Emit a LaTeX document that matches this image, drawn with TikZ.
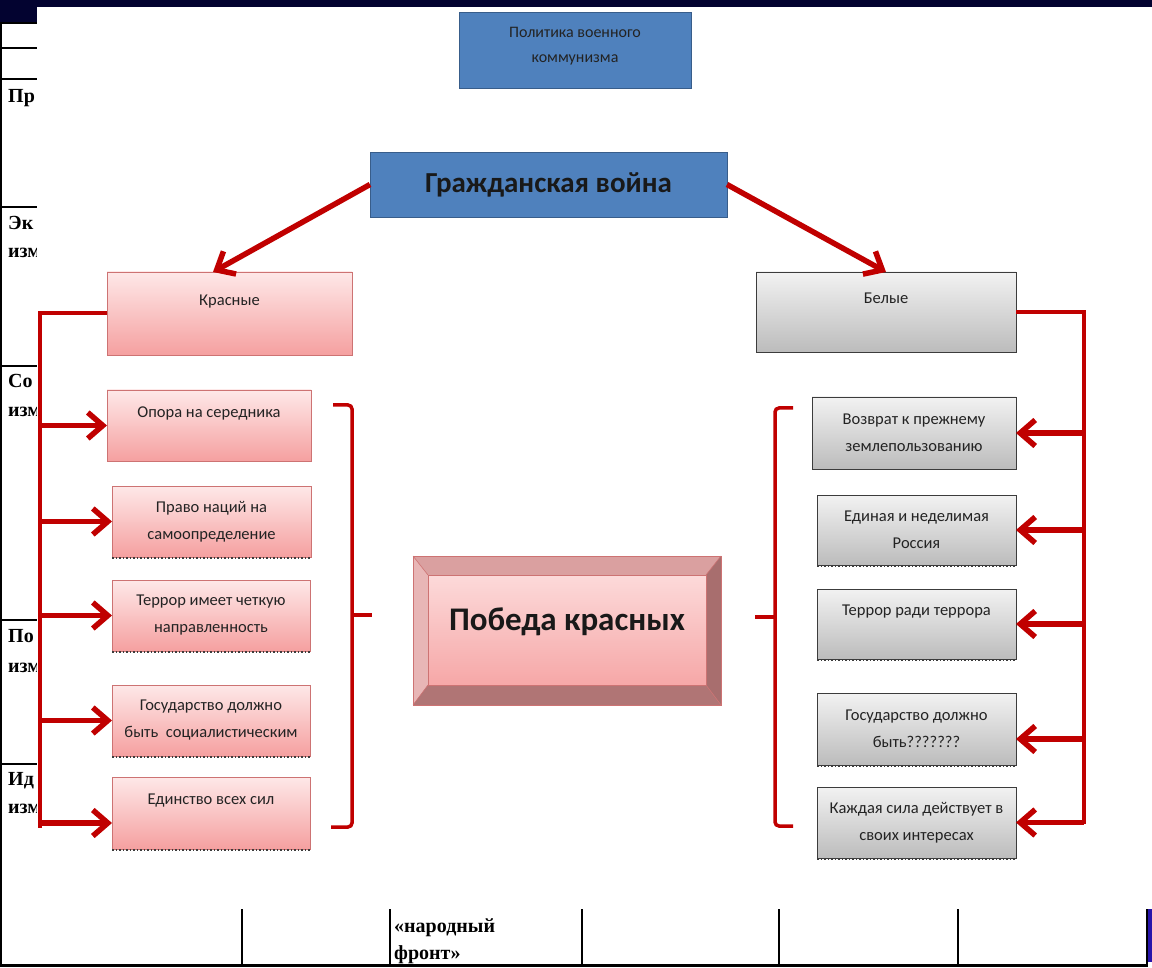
\documentclass[tikz,border=0pt]{standalone}
\usepackage{fontspec}
\setmainfont{Carlito}
\newfontfamily\tabfont{Liberation Serif}
\usetikzlibrary{arrows.meta}
\definecolor{navy}{RGB}{3,3,48}
\definecolor{bluefill}{RGB}{79,129,189}
\definecolor{blueline}{RGB}{56,93,138}
\definecolor{arrred}{RGB}{192,0,0}
\definecolor{pinktop}{RGB}{254,232,232}
\definecolor{pinkbot}{RGB}{245,160,160}
\definecolor{pinkline}{RGB}{205,115,115}
\definecolor{graytop}{RGB}{242,242,242}
\definecolor{graybot}{RGB}{188,188,188}
\definecolor{grayline}{RGB}{60,60,60}
\definecolor{txt}{RGB}{35,35,35}
\definecolor{bevtop}{RGB}{218,160,160}
\definecolor{bevleft}{RGB}{232,182,182}
\definecolor{bevright}{RGB}{168,110,110}
\definecolor{bevbot}{RGB}{176,117,117}
\definecolor{strip}{RGB}{40,20,170}
\tikzset{
  basebox/.style={inner sep=0pt, outer sep=0pt, anchor=north west, align=center, text=txt, line width=0.8pt,
    font=\fontsize{16.5}{27}\selectfont},
  bluebox/.style={basebox, draw=blueline, fill=bluefill},
  pinkbox/.style={basebox, draw=pinkline, top color=pinktop, bottom color=pinkbot},
  graybox/.style={basebox, draw=grayline, top color=graytop, bottom color=graybot},
  tabline/.style={line width=2pt, black},
  tabtext/.style={font=\tabfont\bfseries\fontsize{20}{20}\selectfont, anchor=base west, inner sep=0pt},
  trunk/.style={line width=4pt, arrred},
  arr/.style={line width=5.5pt, arrred, -{Straight Barb[length=15pt,width=26pt]}},
  brace/.style={line width=3.5pt, arrred, rounded corners=4pt},
  dotline/.style={line width=1.5pt, dotted, grayline},
}
\begin{document}
\begin{tikzpicture}[x=1pt,y=-1pt]
\useasboundingbox (0,0) rectangle (1152,968);
% ---- table in the background ----
\fill[white] (0,0) rectangle (1152,968);
\fill[navy] (0,0) rectangle (1152,7);
\fill[navy] (0,0) rectangle (37,22);
\foreach \yy in {23,48,79,207,366,620,764} \draw[tabline] (0,\yy) -- (37,\yy);
\draw[tabline] (1,22) -- (1,966);
\draw[line width=3pt] (0,965.5) -- (1148,965.5);
\foreach \xx in {242,390,582,779,958,1147} \draw[tabline] (\xx,909) -- (\xx,965);
\fill[strip] (1148,908) rectangle (1152,962);
\node[tabtext] (t1) at (8,103) {Пр};
\node[tabtext] (t2) at (8,230) {Эк};
\node[tabtext] (t3) at (8,258) {изм};
\node[tabtext] (t4) at (8,388) {Со};
\node[tabtext] (t5) at (8,417) {изм};
\node[tabtext] (t6) at (8,642) {По};
\node[tabtext] (t7) at (8,672) {изм};
\node[tabtext] (t8) at (8,785) {Ид};
\node[tabtext] (t9) at (8,813) {изм};
\node[tabtext] (t10) at (394,932) {«народный};
\node[tabtext] (t11) at (394,959) {фронт»};
% ---- white sheet over the table ----
\fill[white] (37,7) rectangle (1152,909);
% ---- boxes ----
\node[bluebox, minimum width=232pt, minimum height=76pt, font=\fontsize{16}{25}\selectfont] (pol) at (459,12) {Политика военного\\коммунизма\\[-14pt]\mbox{}};
\node[bluebox, minimum width=357pt, minimum height=65pt, font=\bfseries\fontsize{29}{30}\selectfont, text=black!90] (gw) at (370,152) {Гражданская война};
\node[pinkbox, minimum width=245pt, minimum height=83pt] (red) at (107,272) {Красные\\\mbox{}};
\node[graybox, minimum width=260pt, minimum height=80pt] (wht) at (756,272) {Белые\\\mbox{}};
\node[pinkbox, minimum width=204pt, minimum height=71pt] (r1) at (107,390) {Опора на середника\\\mbox{}};
\node[pinkbox, minimum width=199pt, minimum height=71pt] (r2) at (112,486) {Право наций на\\самоопределение};
\node[pinkbox, minimum width=198pt, minimum height=71pt] (r3) at (112,580) {Террор имеет четкую\\направленность};
\node[pinkbox, minimum width=198pt, minimum height=71pt] (r4) at (112,685) {Государство должно\\быть\ \ социалистическим};
\node[pinkbox, minimum width=198pt, minimum height=72pt] (r5) at (112,777) {Единство всех сил\\\mbox{}};
\node[graybox, minimum width=204pt, minimum height=72pt] (w1) at (812,397) {Возврат к прежнему\\землепользованию};
\node[graybox, minimum width=199pt, minimum height=70pt] (w2) at (817,495) {Единая и неделимая\\Россия};
\node[graybox, minimum width=199pt, minimum height=70pt] (w3) at (817,589) {Террор ради террора\\\mbox{}};
\node[graybox, minimum width=199pt, minimum height=72pt] (w4) at (817,693) {Государство должно\\быть???????};
\node[graybox, minimum width=199pt, minimum height=71pt] (w5) at (817,787) {Каждая сила действует в\\своих интересах};
\foreach \b in {r2,r3,r4,r5,w2,w3,w4,w5} \draw[dotline] ([yshift=-1pt]\b.south west) -- ([yshift=-1pt]\b.south east);
% ---- bevelled result box ----
\node[basebox, draw=pinkline, fill=bevtop, minimum width=308pt, minimum height=149pt] (win) at (413,556) {};
\node[basebox, minimum width=278pt, minimum height=110pt, top color=pinktop!80!pinkbot, bottom color=pinkbot!90!pinktop] (face) at (428,575) {};
\fill[bevleft] (win.north west) -- (face.north west) -- (face.south west) -- (win.south west) -- cycle;
\fill[bevright] (win.north east) -- (face.north east) -- (face.south east) -- (win.south east) -- cycle;
\fill[bevbot] (win.south west) -- (face.south west) -- (face.south east) -- (win.south east) -- cycle;
\draw[pinkline, line width=0.8pt] (win.north west) rectangle (win.south east);
\draw[pinkline, line width=0.8pt] (face.north west) rectangle (face.south east);
\foreach \c in {north west,north east,south west,south east} \draw[pinkline, line width=0.6pt] (win.\c) -- (face.\c);
\node[font=\bfseries\fontsize{33}{33}\selectfont, text=black!90, inner sep=0pt] (wintext) at ([yshift=8pt]face.center) {Победа красных};
% ---- connectors ----
\draw[arr] (gw.west) -- ([xshift=106pt]red.north west);
\draw[arr] (gw.east) -- (wht.north);
\coordinate (lt) at (39.5,313.5);
\coordinate (lb) at (39.5,828);
\draw[trunk] (red.west) -- (lt) -- (lb);
\draw[arr] (lt |- r1.west) -- (r1.west);
\draw[arr] (lt |- r2.west) -- (r2.west);
\draw[arr] (lt |- r3.west) -- (r3.west);
\draw[arr] (lt |- r4.west) -- (r4.west);
\draw[arr] ([yshift=-10pt]lt |- r5.west) -- ([yshift=-10pt]r5.west);
\coordinate (rt) at (1084,312);
\coordinate (rb) at (1084,824);
\draw[trunk] (wht.east) -- (rt) -- (rb);
\draw[arr] (rt |- w1.east) -- (w1.east);
\draw[arr] (rt |- w2.east) -- (w2.east);
\draw[arr] (rt |- w3.east) -- (w3.east);
\draw[arr] ([yshift=-10pt]rt |- w4.east) -- ([yshift=-10pt]w4.east);
\draw[arr] (rt |- w5.east) -- (w5.east);
% ---- brackets ----
\draw[brace] (333,405) -- (352,405) -- (352,827) -- (331,827);
\draw[line width=3.5pt, arrred] (352,615) -- (372,615);
\draw[brace] (793,408) -- (775,408) -- (775,826) -- (793,826);
\draw[line width=3.5pt, arrred] (775,617) -- (755,617);
\end{tikzpicture}
\end{document}
